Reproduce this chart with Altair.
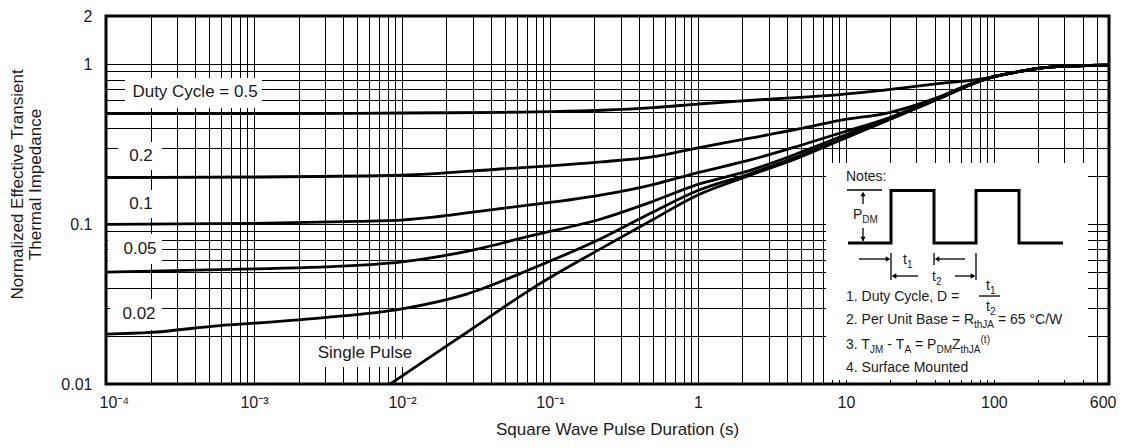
import altair as alt
import pandas as pd

# ---------------- data ----------------
D05_X = [1e-4, 1e-3, 1e-2, 0.05, 0.1, 0.224, 0.5, 1, 2, 4.9, 9.1, 20, 42, 80, 100, 150, 205, 300, 450, 600]
D05_Y = [0.49, 0.49, 0.495, 0.50, 0.505, 0.515, 0.535, 0.563, 0.59, 0.62, 0.645, 0.695, 0.755, 0.805, 0.835, 0.9, 0.945, 0.972, 0.982, 0.985]

D02_X = [1e-4, 1e-3, 1e-2, 0.046, 0.224, 0.49, 1, 2.2, 4.9, 9.1, 20, 42, 80, 100, 150, 205, 300, 450, 600]
D02_Y = [0.195, 0.197, 0.202, 0.221, 0.245, 0.263, 0.30, 0.343, 0.395, 0.445, 0.50, 0.62, 0.79, 0.835, 0.9, 0.945, 0.972, 0.982, 0.985]

D01_X = [1e-4, 1e-3, 5e-3, 1e-2, 0.046, 0.224, 0.49, 1, 2.2, 4.9, 9.1, 20, 42, 80, 100, 150, 205, 300, 450, 600]
D01_Y = [0.0995, 0.101, 0.104, 0.106, 0.125, 0.152, 0.176, 0.21, 0.25, 0.31, 0.37, 0.465, 0.615, 0.785, 0.835, 0.9, 0.945, 0.972, 0.982, 0.985]

D005_X = [1e-4, 1e-3, 3e-3, 1e-2, 0.0274, 0.0766, 0.224, 0.49, 1, 2.2, 4.9, 9.1, 20, 42, 80, 100, 150, 205, 300, 450, 600]
D005_Y = [0.050, 0.0525, 0.054, 0.058, 0.0675, 0.085, 0.108, 0.138, 0.177, 0.215, 0.28, 0.35, 0.46, 0.61, 0.783, 0.835, 0.9, 0.945, 0.972, 0.982, 0.985]

D002_X = [1e-4, 2e-4, 5.9e-4, 1e-3, 3e-3, 1e-2, 0.0274, 0.0766, 0.224, 0.49, 1, 2.2, 4.9, 9.1, 20, 42, 80, 100, 150, 205, 300, 450, 600]
D002_Y = [0.0205, 0.021, 0.0232, 0.024, 0.026, 0.0295, 0.0365, 0.0529, 0.0815, 0.118, 0.162, 0.205, 0.268, 0.337, 0.455, 0.607, 0.782, 0.835, 0.9, 0.945, 0.972, 0.982, 0.985]

SP_X = [8.3e-3, 0.01, 0.0133, 0.0274, 0.0766, 0.224, 0.49, 1, 2.2, 4.9, 9.1, 20, 42, 80, 100, 150, 205, 300, 450, 600]
SP_Y = [0.01, 0.0112, 0.0134, 0.021, 0.0398, 0.0707, 0.106, 0.152, 0.200, 0.262, 0.333, 0.452, 0.605, 0.78, 0.835, 0.9, 0.945, 0.972, 0.982, 0.985]

SERIES = [("0.5", D05_X, D05_Y), ("0.2", D02_X, D02_Y), ("0.1", D01_X, D01_Y),
          ("0.05", D005_X, D005_Y), ("0.02", D002_X, D002_Y), ("single", SP_X, SP_Y)]

XTICK_VALUES = [0.0001, 0.001, 0.01, 0.1, 1, 10, 100, 600]
XTICK_LABELS = ["10\u207b\u2074", "10\u207b\u00b3", "10\u207b\u00b2", "10\u207b\u00b9", "1", "10", "100", "600"]
YTICK_VALUES = [0.01, 0.1, 1, 2]
YTICK_LABELS = ["0.01", "0.1", "1", "2"]

CURVE_LABELS = ["Duty Cycle = 0.5", "0.2", "0.1", "0.05", "0.02", "Single Pulse"]

# ---------------- styling / layout ----------------
INK = "#1a1a1a"
FONT = "Liberation Sans"
W, H = 1003, 368

XGRID = sorted(set(round(m * 10.0 ** e, 12) for e in range(-4, 3) for m in range(1, 10)
                   if m * 10.0 ** e <= 600.0001))
YGRID = sorted(round(m * 10.0 ** e, 12) for e in (-2, -1) for m in range(1, 10)) + [1.0, 2.0]


def label_expr(values, labels):
    expr = "''"
    for v, l in zip(values, labels):
        expr = f"abs(datum.value - {v!r}) < {v * 1e-6!r} ? '{l}' : ({expr})"
    return expr


rows = []
for name, xs, ys in SERIES:
    for i, (x, y) in enumerate(zip(xs, ys)):
        rows.append({"series": name, "t": x, "z": y, "i": i})
curves_df = pd.DataFrame(rows)

x_enc = alt.X("t:Q",
              scale=alt.Scale(type="log", domain=[1e-4, 600], nice=False),
              axis=alt.Axis(values=XGRID, labelExpr=label_expr(XTICK_VALUES, XTICK_LABELS),
                            grid=True, gridColor="black", gridWidth=1, gridOpacity=1,
                            ticks=False, domain=False, labelFont=FONT, labelFontSize=16,
                            labelColor=INK, labelPadding=10, labelFlush=True,
                            labelFlushOffset=7, labelOverlap=False,
                            title="Square Wave Pulse Duration (s)", titleFont=FONT,
                            titleFontSize=17, titleFontWeight="normal", titleColor=INK,
                            titleX=511, titleY=45, titleAlign="center", titleBaseline="middle"))
y_enc = alt.Y("z:Q",
              scale=alt.Scale(type="log", domain=[0.01, 2], nice=False),
              axis=alt.Axis(values=YGRID, labelExpr=label_expr(YTICK_VALUES, YTICK_LABELS),
                            grid=True, gridColor="black", gridWidth=1, gridOpacity=1,
                            ticks=False, domain=False, labelFont=FONT, labelFontSize=16,
                            labelColor=INK, labelPadding=14, labelOverlap=False,
                            title=["Normalized Effective Transient", "Thermal Impedance"],
                            titleFont=FONT, titleFontSize=17, titleFontWeight="normal",
                            titleColor=INK, titleAngle=270, titleX=-89, titleY=168,
                            titleAlign="center", titleBaseline="middle", titleLineHeight=18))

curves = alt.Chart(curves_df).mark_line(color="black", strokeWidth=2.8, clip=True,
                                        interpolate="monotone").encode(
    x=x_enc, y=y_enc, detail="series:N", order="i:Q")

# curve labels with white boxes (pixel positions inside the plot area)
lab_df = pd.DataFrame({
    "text": CURVE_LABELS,
    "px": [89, 35, 35, 34, 33, 259],
    "py": [76, 140, 188, 233, 298, 337],
    "x0": [19, 12, 12, 2, 4, 206],
    "x1": [156, 56, 56, 56, 56, 306],
    "y0": [62, 126, 174, 218, 283, 323],
    "y1": [92, 154, 202, 248, 314, 351],
})
lab_boxes = alt.Chart(lab_df).mark_rect(color="white").encode(
    x=alt.X("x0:Q", scale=None), x2="x1:Q", y=alt.Y("y0:Q", scale=None), y2="y1:Q")
lab_text = alt.Chart(lab_df).mark_text(font=FONT, fontSize=17, color=INK, align="center",
                                       baseline="middle").encode(
    x=alt.X("px:Q", scale=None), y=alt.Y("py:Q", scale=None), text="text:N")

# ---------------- notes inset ----------------
ARIAL = {' ': 278, '.': 278, ',': 278, '-': 333, '=': 584, '(': 333, ')': 333, '/': 278, '\u00b0': 400,
         'A': 667, 'B': 667, 'C': 722, 'D': 722, 'J': 500, 'M': 833, 'N': 722, 'P': 667, 'R': 722,
         'S': 667, 'T': 611, 'U': 722, 'W': 944, 'Z': 611, 'a': 556, 'c': 500, 'd': 556, 'e': 556,
         'f': 278, 'h': 556, 'i': 222, 'l': 222, 'm': 833, 'n': 556, 'o': 556, 'r': 333, 's': 500,
         't': 278, 'u': 556, 'v': 500, 'y': 500, 'z': 500}


def tw(s, fs):
    return sum(ARIAL.get(c, 556) for c in s) * fs / 1000.0


note_rows = []


def chain(x, y, segs):
    # SVG drops leading spaces, so advance past them by hand
    for text, fs, dy in segs:
        lead = len(text) - len(text.lstrip(" "))
        body = text.lstrip(" ")
        note_rows.append({"x": x + tw(" " * lead, fs), "y": y + dy, "text": body, "fs": fs})
        x += tw(text, fs)


FS, SS = 14, 10
OY = -2
chain(740, 163 + OY, [("Notes:", FS, 0)])
chain(747, 201 + OY, [("P", FS, 0), ("DM", SS, 5)])
chain(797, 246 + OY, [("t", FS, 0), ("1", SS, 5)])
chain(826, 263 + OY, [("t", FS, 0), ("2", SS, 5)])
chain(740, 283 + OY, [("1. Duty Cycle, D =", FS, 0)])
chain(880, 272 + OY, [("t", FS, 0), ("1", SS, 5)])
chain(880, 293 + OY, [("t", FS, 0), ("2", SS, 5)])
chain(740, 306 + OY, [("2. Per Unit Base = R", FS, 0), ("thJA", SS, 5), (" = 65 \u00b0C/W", FS, 0)])
chain(740, 331 + OY, [("3. T", FS, 0), ("JM", SS, 5), (" - T", FS, 0), ("A", SS, 5), (" = P", FS, 0),
                      ("DM", SS, 5), ("Z", FS, 0), ("thJA", SS, 5), ("(t)", SS, -5)])
chain(740, 354 + OY, [("4. Surface Mounted", FS, 0)])
notes_text_df = pd.DataFrame(note_rows)

box_df = pd.DataFrame({"x0": [720], "x1": [982], "y0": [147], "y1": [364]})
notes_box = alt.Chart(box_df).mark_rect(color="white").encode(
    x=alt.X("x0:Q", scale=None), x2="x1:Q", y=alt.Y("y0:Q", scale=None), y2="y1:Q")

wave_df = pd.DataFrame({
    "x": [742, 785, 785, 828, 828, 870, 870, 913, 913, 957],
    "y": [227, 227, 174.5, 174.5, 227, 227, 174.5, 174.5, 227, 227],
})
wave_df["i"] = range(len(wave_df))
wave = alt.Chart(wave_df).mark_line(color="black", strokeWidth=3, strokeJoin="miter").encode(
    x=alt.X("x:Q", scale=None), y=alt.Y("y:Q", scale=None), order="i:Q")

seg_df = pd.DataFrame({
    "x0": [741, 757, 757, 753, 785, 828, 831, 788, 849, 870, 873],
    "x1": [776, 757, 757, 782, 785, 828, 859, 812, 866, 870, 894],
    "y0": [174, 177, 212, 243, 237, 237, 243, 260, 260, 237, 280],
    "y1": [174, 188, 225, 243, 264, 249, 243, 260, 260, 264, 280],
})
segs = alt.Chart(seg_df).mark_rule(color="black", strokeWidth=1.3).encode(
    x=alt.X("x0:Q", scale=None), x2="x1:Q", y=alt.Y("y0:Q", scale=None), y2="y1:Q")

head_df = pd.DataFrame({
    "x": [757, 757, 782, 831, 788, 867],
    "y": [178, 223, 243, 243, 260, 260],
    "shape": ["triangle-up", "triangle-down", "triangle-right", "triangle-left",
              "triangle-left", "triangle-right"],
})
heads = alt.Chart(head_df).mark_point(filled=True, color="black", size=28, opacity=1).encode(
    x=alt.X("x:Q", scale=None), y=alt.Y("y:Q", scale=None),
    shape=alt.Shape("shape:N", scale=None))

notes_text = alt.Chart(notes_text_df).mark_text(font=FONT, color=INK, align="left",
                                                baseline="middle").encode(
    x=alt.X("x:Q", scale=None), y=alt.Y("y:Q", scale=None), text="text:N",
    size=alt.Size("fs:Q", scale=None))

chart = alt.layer(
    lab_boxes, curves, lab_text, notes_box, wave, segs, heads, notes_text
).properties(
    width=W, height=H,
    autosize=alt.AutoSizeParams(type="none"),
    padding={"left": 98, "top": 8, "right": 9, "bottom": 56},
    background="white",
).configure_view(stroke="black", strokeWidth=3)

chart.save("out.html", embed_options={"renderer": "svg", "actions": False})
